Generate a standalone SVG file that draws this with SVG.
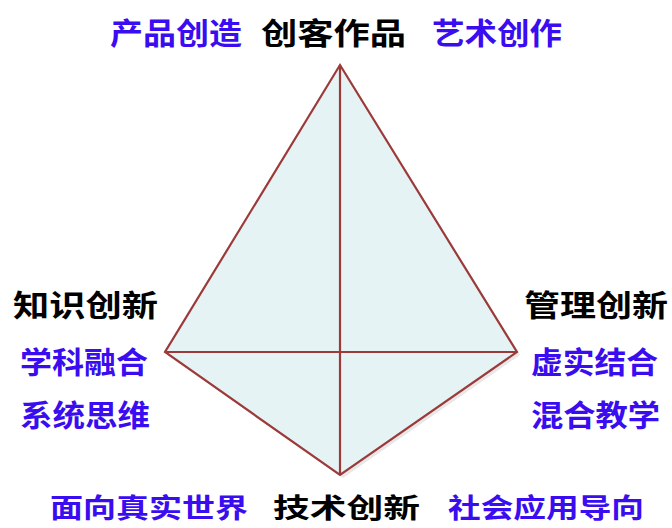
<svg xmlns="http://www.w3.org/2000/svg" width="672" height="528" viewBox="0 0 672 528">
<style>
text{font-family:"Noto Sans CJK SC","Noto Sans",sans-serif;font-weight:bold;font-size:30px}
.k{fill:#000}
.b{fill:#3a0cf0}
.s{font-size:27px}
.edge{stroke:#9c3a3a;stroke-width:2.2;fill:none}
</style>
<rect width="672" height="528" fill="#fff"/>
<g id="connectors">
<polygon points="343,68 520,355 343,478 168,355" fill="#d8d8d8" opacity="0.6"/>
<polygon points="340,65 517,352 340,475 165,352" fill="#e6f3f5"/>
<polygon class="edge" points="340,65 517,352 340,475 165,352"/>
<line class="edge" x1="340" y1="65" x2="340" y2="475"/>
<line class="edge" x1="165" y1="352" x2="517" y2="352"/>
</g>
<g id="top">
<text class="b" x="110" y="44" textLength="132" lengthAdjust="spacingAndGlyphs">产品创造</text>
<text class="k" x="261" y="44" textLength="145" lengthAdjust="spacingAndGlyphs">创客作品</text>
<text class="b" x="432" y="44" textLength="130" lengthAdjust="spacingAndGlyphs">艺术创作</text>
</g>
<g id="left">
<text class="k" x="13" y="316" textLength="145" lengthAdjust="spacingAndGlyphs">知识创新</text>
<text class="b" x="20" y="373" textLength="128" lengthAdjust="spacingAndGlyphs">学科融合</text>
<text class="b" x="20" y="426" textLength="130" lengthAdjust="spacingAndGlyphs">系统思维</text>
</g>
<g id="right">
<text class="k" x="524" y="316" textLength="144" lengthAdjust="spacingAndGlyphs">管理创新</text>
<text class="b" x="531" y="373" textLength="127" lengthAdjust="spacingAndGlyphs">虚实结合</text>
<text class="b" x="531" y="426" textLength="129" lengthAdjust="spacingAndGlyphs">混合教学</text>
</g>
<g id="bottom">
<text class="b s" x="50" y="518" textLength="198" lengthAdjust="spacingAndGlyphs">面向真实世界</text>
<text class="k s" x="273" y="518" textLength="147" lengthAdjust="spacingAndGlyphs">技术创新</text>
<text class="b s" x="448" y="518" textLength="196" lengthAdjust="spacingAndGlyphs">社会应用导向</text>
</g>
</svg>
